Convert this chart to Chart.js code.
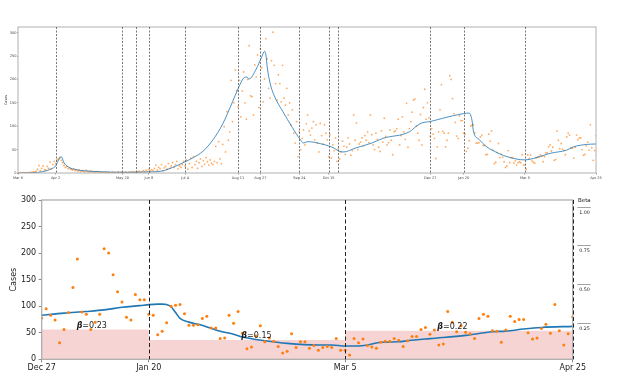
<!DOCTYPE html>
<html><head><meta charset="utf-8">
<script src="https://cdn.jsdelivr.net/npm/chart.js@4/dist/chart.umd.min.js"></script>
<style>
html,body{margin:0;padding:0;background:#fff;}
#wrap{position:relative;width:632px;height:388px;overflow:hidden;}
#top{position:absolute;left:0;top:0;width:632px;height:190px;}
#bot{position:absolute;left:0;top:190px;width:632px;height:198px;}
</style></head><body>
<div id="wrap">
<canvas id="top" width="632" height="190"></canvas>
<canvas id="bot" width="632" height="198"></canvas>
</div>
<script>
// ---- DATA (x = days since Mar 6, 2020) ----
const casesMar = [0,0,0,0,1,0,0,1,0,2, 1,3,2,4,8,16,5,10,15,7, 6,14,10,23,9,18];
const casesApr = [25,20,28,30,33,27,22,16,12,14, 9,11,8,6,9,5,7,4,6,3, 5,4,2,6,3,2,4,2,3,1];
const casesMay = [2,3,1,2,1,2,0,3,1,2, 1,0,2,1,1,0,3,1,2,0, 1,2,1,0,2,1,3,1,2,1, 2];
const casesJun = [4,1,3,5,2,6,3,8,4,7, 5,10,17,6,12,9,18,5,11,14, 8,20,10,15,22,12,18,25,9,15];
const casesJul = [12,18,25, 15,28,8,20,32,12,35,18,25,10, 22,30,14,26,19,33,24,17,28,21, 18,25,57,22,67,30,20,61];
const casesAug = [99,45,131,70,88,198,110,150,220,176, 142,198,120,175,216,150,115,200,272,165, 163,124,231,205,252,140,266,225,152,201, 287];
const casesSep = [244,181,160,240,301,230,191,156,210, 191,152,230,160,145,181,124,150,103,135, 85,64,110,35,88,50,74,92,60,105, 124];
const casesOct = [90,81,96,110,71,103,64, 45,106,80,62,103,85,71,35,82,32, 60,48,75,25,52,30,45,68,57,40, 55,75,62,38];
const casesNov = [48,124,70,107,50,62, 66,75,58,80,70,88,65,124,82,60, 50,85,72,55,46,90,66,117,78,60, 65,92,70,39];
const casesDec = [88,90,95,115,60,80, 120,88,72,149,55,95,110,130,156,158, 100,85,70,125,60,140,179,115,150,118];
// Dec 27, 2020 .. Apr 25, 2021 (zoomed panel)
const casesRecent = [
 78,95,83,74,31,56,88,135,189,89, 85,56,70,85,208,200,159,127,108,79,
 74,122,112,112,85,83,46,53,69,100, 102,103,86,64,64,65,77,81,59,59,
 39,40,83,68,90,49,20,23,44,63, 33,40,34,24,12,15,48,22,33,33,
 21,26,17,22,24,22,39,17,17,8, 39,31,38,26,23,21,32,34,34,39,
 36,24,35,43,43,56,60,47,55,27, 29,90,70,52,63,51,48,39,77,85,
 81,54,53,32,55,81,71,75,75,50, 38,40,58,66,49,103,54,27,48,80];

const topLineDays = [0,10,18,24,27,29,31,33,36,42,54,73,90,103,111,120,126,133,140,147,154,158,162,164,166,171,175,177,178,179,181,184,190,197,203,205,208,212,218,223,227,231,234,242,254,262,281,286,290,296,305,320,324,326,327,331,336,341,351,364,370,382,394,399,408,415];
const topLineVals = [0,0.5,3,9,15,27,35,22,13,7,3.5,1.5,2,4,12,24,33,47,71,105,152,180,203,205,201,222,248,260,252,225,192,165,132,97,70,64,67,66,62,58,53,46,45,53,64,74,88,100,107,110,117,127,128,112,89,72,57,48,35,28,31,42,49,56,61,62];

const bottomLineDays = [296,301,306,310,314,318,320,322,323,324,325,326,327,329,331.5,336,339,341,346,351,358,361,364,367,369,372,376,378,383,391,397,400,404,408,415];
const bottomLineVals = [83,87,90,93,98,101,103,104,104,103,99,88,77,70,65,53,47,42,35,30,27,27,25,25,27,32,33,35,39,45,52,53,57,60,62];

const topTickDays = [0,27,75,94,120,158,174,202,223,296,320,364,415];
const topTickLabels = ['Mar 6','Apr 2','May 20','Jun 8','Jul 4','Aug 11','Aug 27','Sep 24','Oct 15','Dec 27','Jan 20','Mar 5','Apr 25'];
const topBreakDays = [27,75,85,94,120,158,174,202,223,230,296,320,364];

const bottomTickDays = [296,320,364,415];
const bottomTickLabels = ['Dec 27','Jan 20','Mar 5','Apr 25'];
const bottomBreakDays = [320,364,415];

const betaBreaks = [296,320,364,415];
const betaValues = [0.23,0.15,0.22];
const betaTicks = [0.25,0.50,0.75,1.00];
const caseTicks = [0,50,100,150,200,250,300];

// ---- build ----
const allCases = [].concat(casesMar,casesApr,casesMay,casesJun,casesJul,casesAug,casesSep,casesOct,casesNov,casesDec,casesRecent);
const recentStart = allCases.length - casesRecent.length;
const topPoints = allCases.map((v,i)=>({x:i,y:v}));
const bottomPoints = casesRecent.map((v,i)=>({x:recentStart+i,y:v}));
const topLine = topLineDays.map((d,i)=>({x:d,y:topLineVals[i]}));
const bottomLine = bottomLineDays.map((d,i)=>({x:d,y:bottomLineVals[i]}));
const betaSteps = betaValues.map((b,i)=>({x:betaBreaks[i],y:b})).concat([{x:betaBreaks[betaBreaks.length-1],y:betaValues[betaValues.length-1]}]);

Chart.defaults.font.family = "'DejaVu Sans', sans-serif";

const framePlugin = {
  id:'frame',
  afterDatasetsDraw(chart){
    const o = chart.options.plugins.frame; if(!o) return;
    const {ctx, chartArea:a} = chart;
    ctx.save(); ctx.strokeStyle=o.color; ctx.lineWidth=o.width;
    ctx.strokeRect(a.left, a.top, a.right-a.left, a.bottom-a.top);
    ctx.restore();
  }
};
const vlinePlugin = {
  id:'vlines',
  afterDatasetsDraw(chart){
    const o = chart.options.plugins.vlines; if(!o) return;
    const {ctx, chartArea:a} = chart; const xs = chart.scales.x;
    ctx.save(); ctx.strokeStyle=o.color; ctx.lineWidth=o.width; ctx.setLineDash(o.dash);
    o.days.forEach(d=>{
      const x = Math.round(xs.getPixelForValue(d))+0.5;
      ctx.beginPath(); ctx.moveTo(x,a.top); ctx.lineTo(x,a.bottom); ctx.stroke();
    });
    ctx.restore();
  }
};
const betaTextPlugin = {
  id:'betaText',
  afterDatasetsDraw(chart){
    const {ctx} = chart; const xs = chart.scales.x, ys = chart.scales.yShade;
    const shift = chart.options.plugins.betaText.shift;
    betaValues.forEach((b,i)=>{
      const cx = xs.getPixelForValue((betaBreaks[i]+betaBreaks[i+1])/2) + shift[i];
      const y = ys.getPixelForValue(b) - 1.5;
      const s1 = 'β', s2 = '=' + b.toFixed(2);
      ctx.save();
      ctx.fillStyle = '#1a1a1a'; ctx.textBaseline='alphabetic'; ctx.textAlign='left';
      ctx.font = "italic bold 8px 'DejaVu Sans'"; const w1 = ctx.measureText(s1).width;
      ctx.font = "8px 'DejaVu Sans'"; const w2 = ctx.measureText(s2).width;
      const x0 = cx - (w1+w2)/2;
      ctx.font = "italic bold 8px 'DejaVu Sans'"; ctx.fillText(s1, x0, y);
      ctx.font = "8px 'DejaVu Sans'"; ctx.fillText(s2, x0+w1, y);
      ctx.restore();
    });
  }
};
const betaAxisPlugin = {
  id:'betaAxis',
  afterDraw(chart){
    const {ctx, chartArea:a} = chart; const s = chart.scales.beta;
    ctx.save();
    ctx.strokeStyle='#8a8a8a'; ctx.lineWidth=0.8;
    betaTicks.forEach(v=>{
      const y = Math.round(s.getPixelForValue(v) - 5.7)+0.5;
      ctx.beginPath(); ctx.moveTo(a.right+4.6,y); ctx.lineTo(a.right+18,y); ctx.stroke();
    });
    ctx.fillStyle='#222'; ctx.font="5.5px 'DejaVu Sans'"; ctx.textBaseline='middle'; ctx.textAlign='left';
    ctx.fillText('Beta', a.right+5.3, a.top+0.8);
    ctx.restore();
  }
};

new Chart(document.getElementById('top'), {
  type:'scatter',
  data:{datasets:[
    {type:'line', data:topLine, borderColor:'rgba(31,119,180,0.8)', borderWidth:1, pointRadius:0, cubicInterpolationMode:'monotone', order:0},
    {data:topPoints, backgroundColor:'rgba(255,127,14,0.65)', borderWidth:0, pointRadius:0.9, order:1}
  ]},
  options:{
    responsive:false, animation:false, events:[],
    layout:{padding:{left:0,right:36,top:27,bottom:0}},
    plugins:{legend:{display:false}, tooltip:{enabled:false},
      frame:{color:'#b0b0b0', width:1},
      vlines:{days:topBreakDays, color:'#555', width:0.8, dash:[2,1.5]}},
    scales:{
      x:{type:'linear', min:0, max:415,
        afterBuildTicks:s=>{s.ticks = topTickDays.map(v=>({value:v}));},
        ticks:{callback:(v,i)=>topTickLabels[i], font:{size:3.5}, color:'#444', padding:1, maxRotation:0, autoSkip:false},
        grid:{drawOnChartArea:false, tickLength:1.5, color:'#999'}, border:{display:false},
        afterFit:s=>{s.height=17;}},
      y:{min:0, max:312,
        afterBuildTicks:s=>{s.ticks = caseTicks.map(v=>({value:v}));},
        ticks:{font:{size:3.5}, color:'#444', padding:0.5},
        grid:{drawOnChartArea:false, tickLength:1, color:'#999'}, border:{display:false},
        title:{display:true, text:'Cases', font:{size:3.5}, color:'#333', padding:{top:4,bottom:0}},
        afterFit:s=>{s.width=18;}}
    }
  },
  plugins:[framePlugin, vlinePlugin]
});

new Chart(document.getElementById('bot'), {
  type:'scatter',
  data:{datasets:[
    {type:'line', data:betaSteps, yAxisID:'yShade', stepped:true, fill:'origin', backgroundColor:'rgba(214,39,40,0.2)', borderWidth:0, pointRadius:0, order:3},
    {type:'line', data:bottomLine, borderColor:'#1f77b4', borderWidth:1.6, pointRadius:0, cubicInterpolationMode:'monotone', order:1},
    {data:bottomPoints, backgroundColor:'#ff7f0e', borderWidth:0, pointRadius:1.5, order:0}
  ]},
  options:{
    responsive:false, animation:false, events:[],
    layout:{padding:{left:0,right:0,top:10,bottom:0}},
    plugins:{legend:{display:false}, tooltip:{enabled:false},
      frame:{color:'#a8a8a8', width:1.2},
      vlines:{days:bottomBreakDays, color:'#222', width:1, dash:[4,2.5]},
      betaText:{shift:[-3.5,9.5,-6.5]}},
    scales:{
      x:{type:'linear', min:betaBreaks[0], max:betaBreaks[betaBreaks.length-1],
        afterBuildTicks:s=>{s.ticks = bottomTickDays.map(v=>({value:v}));},
        ticks:{callback:(v,i)=>bottomTickLabels[i], font:{size:8}, color:'#222', padding:1, maxRotation:0, autoSkip:false},
        grid:{drawOnChartArea:false, tickLength:3, color:'#888'}, border:{display:false},
        afterFit:s=>{s.height=28.7;}},
      y:{position:'left', min:0, max:300,
        afterBuildTicks:s=>{s.ticks = caseTicks.map(v=>({value:v}));},
        ticks:{font:{size:8}, color:'#222', padding:2.5},
        grid:{drawOnChartArea:false, tickLength:3, color:'#888'}, border:{display:false},
        title:{display:true, text:'Cases', font:{size:8}, color:'#222', padding:{top:9.5,bottom:0}},
        afterFit:s=>{s.width=41.7;}},
      yShade:{display:false, min:0, max:1.2325},
      beta:{position:'right', min:0.055, max:1.079,
        afterBuildTicks:s=>{s.ticks = betaTicks.map(v=>({value:v}));},
        ticks:{callback:v=>Number(v).toFixed(2), font:{size:4.8}, color:'#222', padding:6.5},
        grid:{display:false, drawTicks:false}, border:{display:false},
        afterFit:s=>{s.width=59.3;}}
    }
  },
  plugins:[framePlugin, vlinePlugin, betaTextPlugin, betaAxisPlugin]
});
</script>
</body></html>
